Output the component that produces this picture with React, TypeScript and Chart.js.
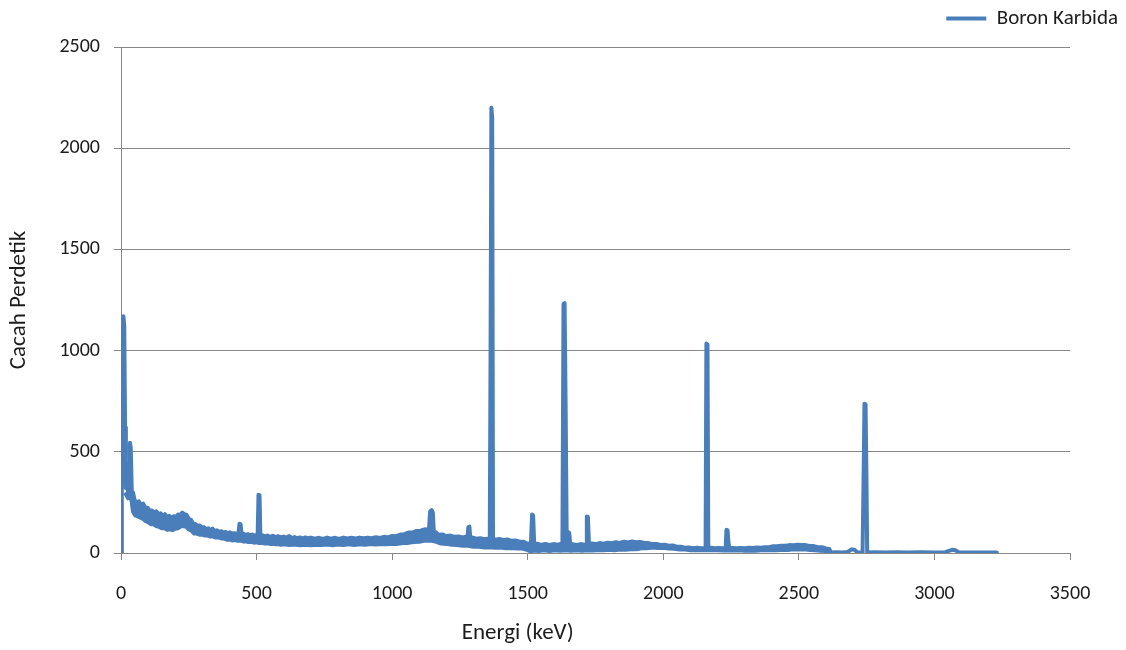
import { useEffect, useRef } from "react";
import { Chart, registerables } from "chart.js";

Chart.register(...registerables);

const seriesLabel = "Boron Karbida";
const xAxisTitle = "Energi (keV)";
const yAxisTitle = "Cacah Perdetik";

const xTickValues = [0, 500, 1000, 1500, 2000, 2500, 3000, 3500];
const yTickValues = [0, 500, 1000, 1500, 2000, 2500];

// Upper trace of the noisy spectrum (with all the peaks): energy in keV
const upperEnergyKeV = [
  0, 3, 6, 9, 12, 15, 18, 22, 26, 30, 33, 36, 40, 44,
  50, 58, 66, 74, 82, 90, 98, 106, 114, 122,
  130, 138, 146, 154, 162, 170, 178, 186, 194, 202,
  210, 218, 226, 234, 242, 250, 258, 266, 274, 282,
  290, 298, 306, 314, 322, 330, 338, 346, 354, 362,
  370, 378, 386, 394, 402, 410, 418, 426, 433, 437,
  441, 445, 452, 460, 468, 476, 484, 492, 500, 504,
  507, 511, 514, 522, 530, 540, 550, 560, 570, 580,
  590, 600, 610, 620, 630, 640, 650, 660, 670, 680,
  690, 700, 715, 730, 745, 760, 775, 790, 805, 820,
  835, 850, 865, 880, 895, 910, 925, 940, 955, 970,
  985, 1000, 1015, 1030, 1045, 1060, 1075, 1090, 1105, 1120,
  1130, 1136, 1140, 1146, 1150, 1154, 1162, 1170, 1185, 1200,
  1215, 1230, 1245, 1260, 1272, 1278, 1281, 1285, 1288, 1295,
  1310, 1325, 1340, 1352, 1358, 1360, 1363, 1366, 1369, 1372,
  1380, 1395, 1410, 1425, 1440, 1455, 1470, 1485, 1495, 1505,
  1512, 1516, 1520, 1524, 1535, 1550, 1565, 1580, 1595, 1610,
  1622, 1628, 1632, 1636, 1640, 1644, 1648, 1653, 1657, 1665,
  1680, 1695, 1708, 1715, 1718, 1722, 1726, 1735, 1750, 1765,
  1780, 1795, 1810, 1825, 1840, 1855, 1870, 1885, 1900, 1915,
  1930, 1945, 1960, 1975, 1990, 2005, 2020, 2035, 2050, 2065,
  2080, 2095, 2110, 2125, 2140, 2152, 2156, 2159, 2163, 2166,
  2175, 2190, 2205, 2220, 2230, 2233, 2237, 2240, 2243, 2255,
  2270, 2285, 2300, 2315, 2330, 2345, 2360, 2375, 2390, 2405,
  2420, 2435, 2450, 2465, 2480, 2495, 2510, 2525, 2540, 2555,
  2570, 2585, 2600, 2612, 2618, 2640, 2660, 2680, 2695, 2705,
  2715, 2735, 2739, 2742, 2746, 2749, 2752, 2780, 2820, 2860,
  2900, 2950, 3000, 3040, 3065, 3075, 3090, 3130, 3180, 3230,
];

// Upper trace: counts per second
const upperCounts = [
  0, 350, 1050, 1170, 1120, 620, 320, 440, 300, 380, 545, 520, 290, 300,
  262, 250, 255, 236, 244, 222, 224, 208, 210, 200,
  206, 192, 196, 182, 192, 174, 184, 172, 182, 178,
  190, 188, 200, 192, 188, 168, 164, 146, 144, 134,
  136, 126, 128, 118, 122, 112, 120, 108, 112, 104,
  108, 100, 105, 97, 102, 95, 98, 93, 97, 145,
  142, 92, 95, 89, 93, 88, 91, 86, 89, 86,
  288, 285, 84, 88, 82, 86, 80, 85, 78, 83,
  77, 81, 76, 84, 74, 79, 73, 77, 72, 77,
  72, 76, 71, 75, 70, 76, 71, 75, 70, 76,
  72, 75, 72, 76, 73, 76, 73, 78, 74, 80,
  77, 84, 83, 91, 93, 101, 101, 109, 110, 117,
  116, 120, 205, 212, 200, 100, 102, 90, 92, 84,
  86, 80, 82, 77, 80, 76, 128, 130, 75, 77,
  71, 73, 68, 71, 67, 70, 1000, 2200, 2150, 70,
  66, 69, 64, 67, 60, 62, 56, 56, 48, 45,
  50, 190, 185, 42, 46, 40, 45, 40, 44, 41,
  45, 44, 1230, 1235, 700, 44, 105, 100, 40, 44,
  40, 44, 41, 42, 180, 178, 42, 47, 44, 49,
  46, 51, 48, 53, 50, 56, 52, 57, 53, 55,
  50, 49, 44, 45, 40, 41, 36, 37, 31, 31,
  26, 27, 24, 26, 23, 25, 24, 1035, 1030, 25,
  26, 23, 25, 23, 24, 115, 112, 60, 24, 25,
  23, 25, 24, 26, 25, 27, 26, 29, 29, 33,
  33, 36, 36, 39, 38, 41, 39, 39, 35, 34,
  29, 29, 23, 20, 3, 4, 3, 5, 18, 16,
  4, 3, 400, 738, 735, 400, 3, 4, 3, 4,
  3, 4, 3, 4, 16, 15, 4, 3, 3, 2,
];

// Lower trace of the noisy continuum: energy in keV
const lowerEnergyKeV = [
  18, 26, 33, 40,
  44, 52, 60, 70, 80, 90, 100, 110, 120, 130,
  140, 150, 160, 170, 180, 190, 200, 210, 220, 230,
  240, 250, 260, 270, 280, 290, 300, 310, 320, 330,
  340, 350, 360, 370, 380, 390, 400, 410, 420, 430,
  440, 450, 460, 470, 480, 490, 500, 510, 520, 530,
  540, 550, 560, 570, 580, 590, 600, 620, 640, 660,
  680, 700, 720, 740, 760, 780, 800, 820, 840, 860,
  880, 900, 920, 940, 960, 980, 1000, 1020, 1040, 1060,
  1080, 1100, 1120, 1140, 1160, 1180, 1200, 1220, 1240, 1260,
  1280, 1300, 1320, 1340, 1360, 1380, 1400, 1420, 1440, 1460,
  1480, 1500, 1510, 1525, 1540, 1560, 1580, 1600, 1620, 1640,
  1660, 1680, 1700, 1720, 1740, 1760, 1780, 1800, 1820, 1840,
  1860, 1880, 1900, 1920, 1940, 1960, 1980, 2000, 2020, 2040,
  2060, 2080, 2100, 2120, 2140, 2160, 2180, 2200, 2220, 2240,
  2260, 2280, 2300, 2320, 2340, 2360, 2380, 2400, 2420, 2440,
  2460, 2480, 2500, 2520, 2540, 2560, 2580, 2600, 2612, 2618,
];

// Lower trace: counts per second
const lowerCounts = [
  290, 270, 300, 250,
  205, 186, 182, 176, 170, 158, 152, 142, 142, 133,
  130, 122, 124, 115, 117, 113, 120, 122, 132, 133,
  130, 116, 110, 96, 96, 90, 91, 86, 86, 81,
  82, 76, 77, 72, 71, 66, 67, 62, 64, 60,
  62, 57, 58, 54, 55, 51, 53, 49, 50, 47,
  48, 45, 46, 43, 44, 41, 43, 40, 42, 38,
  41, 38, 41, 39, 42, 38, 42, 39, 43, 40,
  43, 41, 44, 42, 45, 43, 46, 45, 49, 50,
  54, 56, 61, 62, 56, 47, 45, 41, 40, 36,
  36, 31, 31, 27, 28, 26, 27, 24, 25, 22,
  22, 14, 8, 12, 10, 13, 10, 13, 11, 14,
  11, 13, 11, 14, 12, 15, 13, 16, 14, 17,
  16, 19, 19, 23, 23, 27, 25, 26, 22, 21,
  17, 17, 14, 15, 13, 14, 13, 14, 12, 14,
  12, 13, 11, 12, 11, 13, 13, 15, 14, 16,
  15, 18, 17, 18, 15, 14, 11, 10, 6, 3,
];

const fontFamily = "Carlito, Calibri, Lato, 'Liberation Sans', sans-serif";
const textColor = "#1c1c1c";
const gridColor = "#878787";
const lineColor = "#4a7ebb";

export default function App() {
  const canvasRef = useRef<HTMLCanvasElement | null>(null);

  useEffect(() => {
    document.body.style.margin = "0";
    const canvas = canvasRef.current;
    if (!canvas) return;

    const layoutPlugin = {
      id: "excelLayout",
      beforeUpdate(chart: any) {
        const lg = chart.legend;
        if (lg && !lg.__fixed) {
          const origFit = lg.fit.bind(lg);
          lg.fit = () => {
            origFit();
            if (lg.options && lg.options.display) lg.height = 47;
          };
          lg.__fixed = true;
        }
      },
      afterDraw(chart: any) {
        const { ctx, chartArea } = chart;
        ctx.save();
        ctx.font = `23px ${fontFamily}`;
        ctx.fillStyle = textColor;
        ctx.textAlign = "center";
        ctx.textBaseline = "middle";
        ctx.fillText(xAxisTitle, chartArea.left + chartArea.width * 0.418, chartArea.bottom + 80);
        ctx.restore();
      },
    };

    const upperPoints = upperEnergyKeV.map((e, i) => ({ x: e, y: upperCounts[i] }));
    const lowerPoints = lowerEnergyKeV.map((e, i) => ({ x: e, y: lowerCounts[i] }));

    const chart = new Chart(canvas, {
      type: "line",
      data: {
        datasets: [
          {
            label: seriesLabel,
            data: upperPoints,
            borderColor: lineColor,
            backgroundColor: lineColor,
            borderWidth: 4,
            pointRadius: 0,
            tension: 0,
            borderJoinStyle: "round",
            borderCapStyle: "round",
            fill: false,
          },
          {
            label: seriesLabel + " (lower)",
            data: lowerPoints,
            borderColor: lineColor,
            backgroundColor: lineColor,
            borderWidth: 4,
            pointRadius: 0,
            tension: 0,
            borderJoinStyle: "round",
            borderCapStyle: "round",
            fill: "-1",
          },
        ],
      },
      options: {
        responsive: false,
        animation: false,
        maintainAspectRatio: false,
        layout: { padding: 0 },
        plugins: {
          tooltip: { enabled: false },
          legend: {
            display: true,
            position: "top",
            align: "end",
            labels: {
              usePointStyle: true,
              pointStyle: "line",
              pointStyleWidth: 40,
              padding: 8,
              color: textColor,
              font: { family: fontFamily, size: 21 },
              filter: (item: any) => item.datasetIndex === 0,
            },
          },
        },
        scales: {
          x: {
            type: "linear",
            min: 0,
            max: 3500,
            afterBuildTicks: (s: any) => {
              s.ticks = xTickValues.map((v) => ({ value: v }));
            },
            afterFit: (s: any) => {
              s.height = 97;
              s.paddingRight = 56;
            },
            grid: { drawOnChartArea: false, drawTicks: true, tickLength: 7, color: gridColor, lineWidth: 1 },
            border: { color: gridColor, width: 1 },
            ticks: {
              padding: 22,
              color: textColor,
              maxRotation: 0,
              autoSkip: false,
              font: { family: fontFamily, size: 20 },
              callback: (v: any) => String(v),
            },
          },
          y: {
            type: "linear",
            min: 0,
            max: 2500,
            afterBuildTicks: (s: any) => {
              s.ticks = yTickValues.map((v) => ({ value: v }));
            },
            afterFit: (s: any) => {
              s.width = 121;
            },
            grid: { color: gridColor, lineWidth: 1, tickLength: 7 },
            border: { color: gridColor, width: 1 },
            ticks: {
              padding: 14,
              color: textColor,
              font: { family: fontFamily, size: 20 },
              callback: (v: any) => String(v),
            },
            title: {
              display: true,
              text: yAxisTitle,
              color: textColor,
              font: { family: fontFamily, size: 23 },
              padding: { top: 5, bottom: 0 },
            },
          },
        },
      },
      plugins: [layoutPlugin],
    } as any);

    return () => chart.destroy();
  }, []);

  return (
    <canvas
      ref={canvasRef}
      width={1126}
      height={650}
      style={{ display: "block", width: 1126, height: 650 }}
    />
  );
}
